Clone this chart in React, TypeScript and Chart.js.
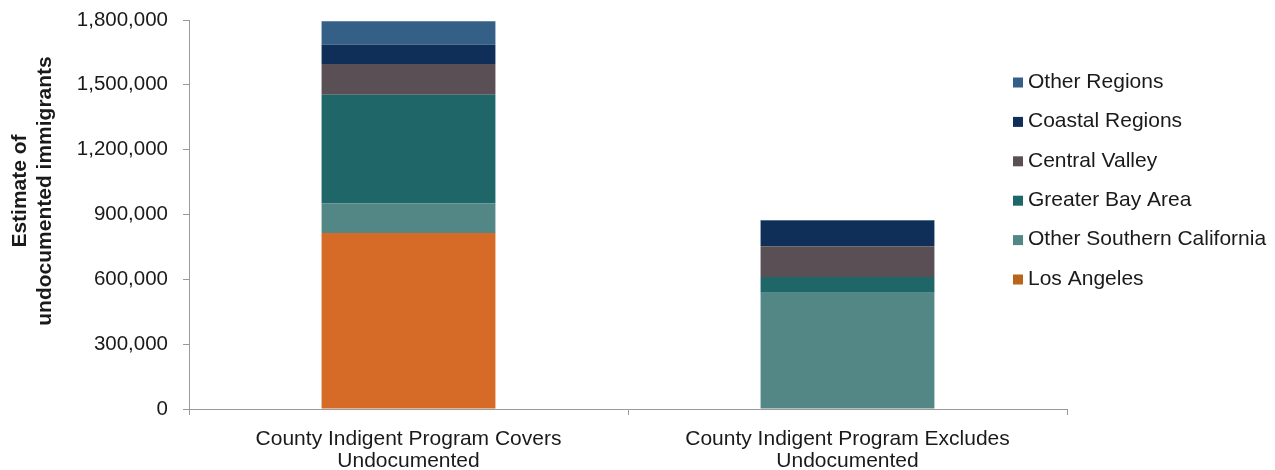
import React, { useEffect, useRef } from "react";
import { Chart, registerables } from "chart.js";

Chart.register(...registerables);

const categories: string[][] = [
  ["County Indigent Program Covers", "Undocumented"],
  ["County Indigent Program Excludes", "Undocumented"],
];

const seriesNames = [
  "Los Angeles",
  "Other Southern California",
  "Greater Bay Area",
  "Central Valley",
  "Coastal Regions",
  "Other Regions",
];

const losAngeles = [814000, 0];
const otherSouthernCalifornia = [138000, 538000];
const greaterBayArea = [502000, 73000];
const centralValley = [142000, 142000];
const coastalRegions = [90000, 118000];
const otherRegions = [108000, 3000];

const yTitleLines = ["Estimate of", "undocumented immigrants"];

const barColors = ["#D66A27", "#528785", "#1E6668", "#5A4F55", "#0F2F58", "#345F87"];
const legendColors = ["#B8641B", "#528785", "#1E6668", "#5A4F55", "#0F2F58", "#345F87"];

const yTicks = [0, 300000, 600000, 900000, 1200000, 1500000, 1800000];

const FONT = '"Liberation Sans", Arial, sans-serif';

const legendPlugin = {
  id: "customLegend",
  afterDraw(chart: any) {
    const ctx = chart.ctx as CanvasRenderingContext2D;
    ctx.save();
    ctx.font = `21px ${FONT}`;
    ctx.textBaseline = "middle";
    ctx.textAlign = "left";
    const n = seriesNames.length;
    const x0 = 1013;
    const top = 82;
    const gap = 39.4;
    for (let i = 0; i < n; i++) {
      const idx = n - 1 - i;
      const y = top + i * gap;
      ctx.fillStyle = legendColors[idx];
      ctx.fillRect(x0, y - 4.5, 10, 10);
      ctx.fillStyle = "#1a1a1a";
      ctx.fillText(seriesNames[idx], x0 + 15, y);
    }
    ctx.restore();

    // y-axis title
    ctx.save();
    ctx.font = `bold 21px ${FONT}`;
    ctx.fillStyle = "#1a1a1a";
    ctx.textAlign = "center";
    ctx.textBaseline = "middle";
    ctx.translate(20, 191);
    ctx.rotate(-Math.PI / 2);
    yTitleLines.forEach((line, i) => {
      ctx.fillText(line, 0, i * 25);
    });
    ctx.restore();
  },
};

export default function App() {
  const ref = useRef<HTMLCanvasElement | null>(null);

  useEffect(() => {
    if (!ref.current) return;
    const values = [
      losAngeles,
      otherSouthernCalifornia,
      greaterBayArea,
      centralValley,
      coastalRegions,
      otherRegions,
    ];
    const chart = new Chart(ref.current, {
      type: "bar",
      data: {
        labels: categories,
        datasets: seriesNames.map((name, i) => ({
          label: name,
          data: values[i],
          backgroundColor: barColors[i],
          borderWidth: 0,
          barPercentage: 0.396,
          categoryPercentage: 1,
        })),
      },
      options: {
        animation: false,
        responsive: true,
        maintainAspectRatio: false,
        layout: { padding: { top: 20, right: 208, bottom: 0, left: 0 } },
        plugins: {
          legend: { display: false },
          tooltip: { enabled: false },
        },
        scales: {
          x: {
            stacked: true,
            afterFit(scale: any) {
              scale.height = 61;
              scale.paddingLeft = 0;
              scale.paddingRight = 0;
            },
            grid: {
              display: true,
              drawOnChartArea: false,
              drawTicks: true,
              tickLength: 6,
              color: "#9a9a9a",
              offset: true,
            },
            border: { display: true, color: "#9a9a9a", width: 1 },
            ticks: {
              color: "#1a1a1a",
              font: { family: FONT, size: 21, lineHeight: 1.05 },
              padding: 13,
              maxRotation: 0,
            },
          },
          y: {
            stacked: true,
            min: 0,
            max: 1800000,
            afterFit(scale: any) {
              scale.width = 189;
              scale.paddingTop = 0;
              scale.paddingBottom = 0;
            },
            afterBuildTicks(scale: any) {
              scale.ticks = yTicks.map((v) => ({ value: v }));
            },
            grid: {
              display: true,
              drawOnChartArea: false,
              drawTicks: true,
              tickLength: 6,
              color: "#9a9a9a",
            },
            border: { display: true, color: "#9a9a9a", width: 1 },
            ticks: {
              color: "#1a1a1a",
              font: { family: FONT, size: 20.5 },
              padding: 15,
              callback: (v: any) => Number(v).toLocaleString("en-US"),
            },
            title: { display: false },
          },
        },
      },
      plugins: [legendPlugin],
    });
    return () => chart.destroy();
  }, []);

  return (
    <div style={{ position: "absolute", left: 0, top: 0, width: 1275, height: 470, background: "#fff" }}>
      <canvas ref={ref} />
    </div>
  );
}
